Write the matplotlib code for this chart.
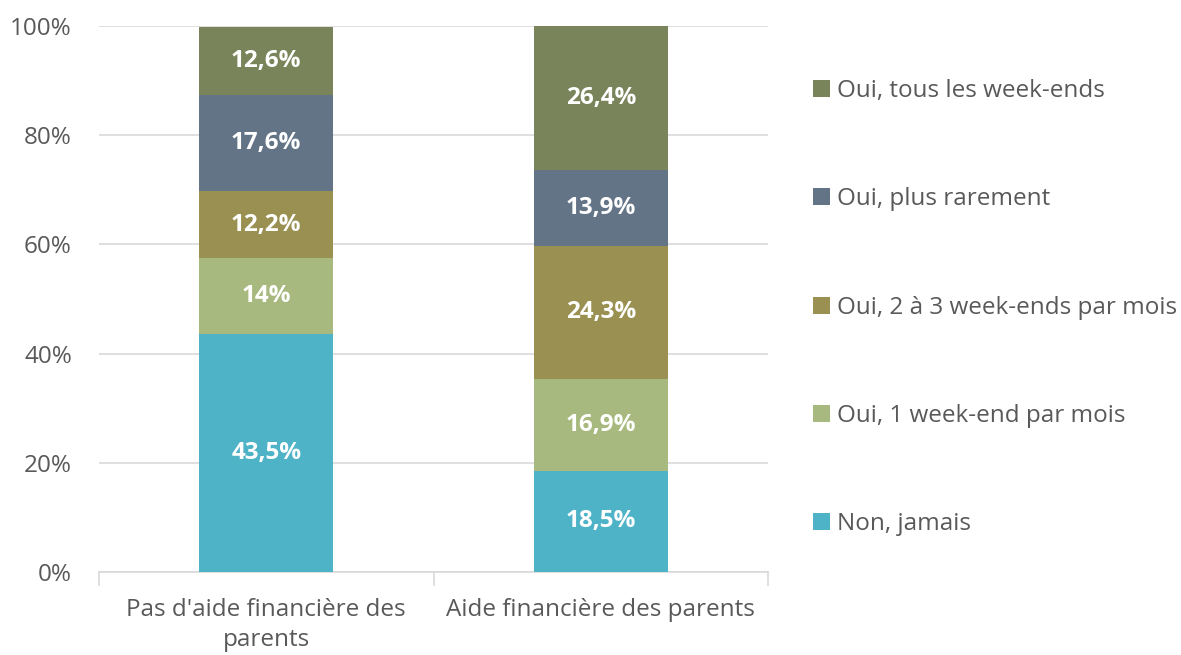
import numpy as np
import matplotlib.pyplot as plt

plt.rcParams['font.family'] = ['Open Sans', 'DejaVu Sans']

categories = ["Pas d'aide financière des\nparents", "Aide financière des parents"]
series = ['Non, jamais', 'Oui, 1 week-end par mois', 'Oui, 2 à 3 week-ends par mois',
          'Oui, plus rarement', 'Oui, tous les week-ends']
values = [
    [43.5, 18.5],
    [14.0, 16.9],
    [12.2, 24.3],
    [17.6, 13.9],
    [12.6, 26.4],
]
labels = [
    ['43,5%', '18,5%'],
    ['14%', '16,9%'],
    ['12,2%', '24,3%'],
    ['17,6%', '13,9%'],
    ['12,6%', '26,4%'],
]
colors = ['#4FB3C8', '#A7B97E', '#9A9052', '#647487', '#79845A']

fig = plt.figure(figsize=(11.81, 6.55), dpi=100)
ax = fig.add_axes([99 / 1181, 1 - 572 / 655, (768 - 99) / 1181, (572 - 26) / 655])

x = np.arange(len(categories))
bottom = np.zeros(len(categories))
handles = []
for vals, lab, col, name in zip(values, labels, colors, series):
    bars = ax.bar(x, vals, width=0.4, bottom=bottom, color=col, label=name, zorder=3)
    ax.bar_label(bars, labels=lab, label_type='center', color='white',
                 fontsize=17.5, fontweight='bold')
    handles.append(bars)
    bottom += np.array(vals)

ax.set_xlim(-0.5, 1.5)
ax.set_ylim(0, 100)
ax.set_yticks(range(0, 101, 20))
ax.set_yticklabels([f'{v}%' for v in range(0, 101, 20)])
ax.yaxis.grid(True, color='#D9D9D9', linewidth=1.2, zorder=0)
ax.tick_params(axis='y', length=0, labelsize=17.5, labelcolor='#595959', pad=19.5)

ax.set_xticks(x)
ax.set_xticklabels(categories, fontsize=17.5, color='#595959', linespacing=1.3)
ax.tick_params(axis='x', length=0, pad=19)
ax.set_xticks([-0.5, 0.5, 1.5], minor=True)
ax.tick_params(axis='x', which='minor', length=10, color='#D9D9D9', width=1.2)

for s in ['top', 'right', 'left']:
    ax.spines[s].set_visible(False)
ax.spines['bottom'].set_color('#D9D9D9')
ax.spines['bottom'].set_linewidth(1.2)

ax.legend(handles[::-1], series[::-1], loc='upper left',
          bbox_to_anchor=(813 / 1181, 1 - 79 / 655), bbox_transform=fig.transFigure,
          frameon=False, fontsize=17.5, labelcolor='#595959',
          handlelength=0.68, handleheight=0.68, handletextpad=0.3,
          labelspacing=3.47, borderpad=0, borderaxespad=0)

fig.savefig('out.png', dpi=100)
